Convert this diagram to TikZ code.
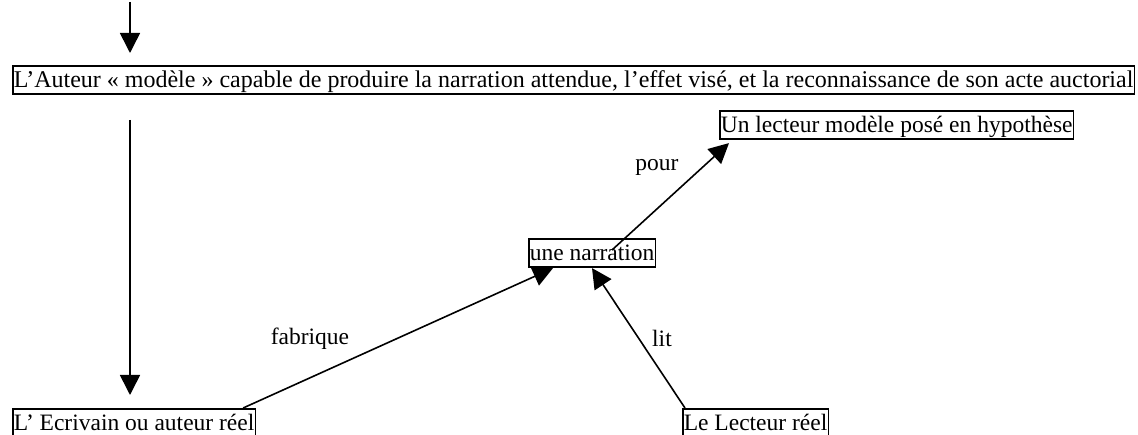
\documentclass[tikz,border=0pt]{standalone}
\usepackage{fontspec}
\setmainfont{Liberation Serif}
\usetikzlibrary{arrows.meta,calc}
\begin{document}
\begin{tikzpicture}[x=1pt,y=-1pt,
  box/.style={draw,line width=1.6pt,inner xsep=1pt,inner ysep=1pt,text height=21pt,text depth=5.5pt,anchor=north west,font=\fontsize{23.5}{28}\selectfont},
  lbl/.style={inner sep=0pt,font=\fontsize{23.5}{28}\selectfont},
  arr/.style={line width=1.6pt,-{Triangle[length=20pt,width=20pt]}}]
\useasboundingbox (0,0) rectangle (1138,435);
\node[box,font=\fontsize{24}{28}\selectfont] (aut) at (12,65) {L’Auteur « modèle » capable de produire la narration attendue, l’effet visé, et la reconnaissance de son acte auctorial};
\node[box] (lm) at (719,110) {Un lecteur modèle posé en hypothèse};
\node[box] (nar) at (528,238) {une narration};
\node[box] (ecr) at (12,408) {L’ Ecrivain ou auteur réel};
\node[box] (lr) at (682,408) {Le Lecteur réel};
\coordinate (t0) at (130,2);
\coordinate (t1) at (130,53);
\coordinate (l0) at (130,120);
\coordinate (l1) at (130,395);
\draw[arr] (t0) -- (t1);
\draw[arr] (l0) -- (l1);
\draw[arr] ($(ecr.north east)+(-13,0)$) -- ($(nar.south west)+(25,0)$);
\draw[arr] ($(lr.north west)+(3,0)$) -- ($(nar.south west)+(64,0)$);
\draw[arr] ($(nar.north west)+(84,12)$) -- ($(lm.south west)+(10,3)$);
\node[lbl] (fab) at (310,339) {fabrique};
\node[lbl] (lit) at (662,338) {lit};
\node[lbl] (pour) at (657,167) {pour};
\end{tikzpicture}
\end{document}
